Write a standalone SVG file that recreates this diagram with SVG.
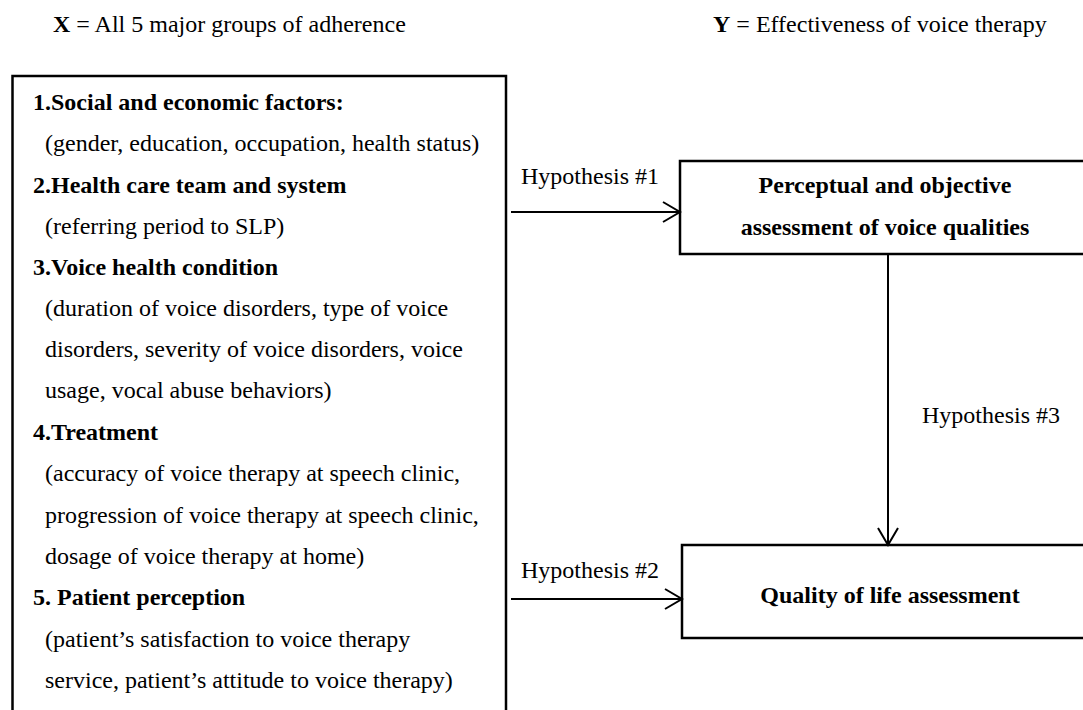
<svg xmlns="http://www.w3.org/2000/svg" width="1083" height="710" viewBox="0 0 1083 710">
<defs>
<style>
text{font-family:"Liberation Serif","Times New Roman",serif;font-size:24px;fill:#000}
.b{font-weight:bold}
.box{fill:#fff;stroke:#000;stroke-width:2.5}
.edge{fill:none;stroke:#000;stroke-width:2}
.c{text-anchor:middle}
</style>
<marker id="arr" markerWidth="20" markerHeight="24" refX="18" refY="11" orient="auto" markerUnits="userSpaceOnUse">
<path d="M1,1 L18,11 L1,21" fill="none" stroke="#000" stroke-width="2"/>
</marker>
</defs>
<rect width="1083" height="710" fill="#fff"/>
<g id="header">
<text x="53" y="32"><tspan class="b">X</tspan> = All 5 major groups of adherence</text>
<text x="713" y="32"><tspan class="b">Y</tspan> = Effectiveness of voice therapy</text>
</g>
<g id="node-x">
<rect class="box" x="12.5" y="76" width="493.5" height="660"/>
<text class="b" x="33" y="110">1.Social and economic factors:</text>
<text x="45" y="151">(gender, education, occupation, health status)</text>
<text class="b" x="33" y="192.5">2.Health care team and system</text>
<text x="45" y="233.5">(referring period to SLP)</text>
<text class="b" x="33" y="275">3.Voice health condition</text>
<text x="45" y="316">(duration of voice disorders, type of voice</text>
<text x="45" y="357">disorders, severity of voice disorders, voice</text>
<text x="45" y="398">usage, vocal abuse behaviors)</text>
<text class="b" x="33" y="440">4.Treatment</text>
<text x="45" y="481">(accuracy of voice therapy at speech clinic,</text>
<text x="45" y="522.5">progression of voice therapy at speech clinic,</text>
<text x="45" y="564">dosage of voice therapy at home)</text>
<text class="b" x="33" y="605">5. Patient perception</text>
<text x="45" y="646.5">(patient’s satisfaction to voice therapy</text>
<text x="45" y="688">service, patient’s attitude to voice therapy)</text>
</g>
<g id="node-perceptual">
<rect class="box" x="680" y="161" width="420" height="93"/>
<text class="b c" x="885" y="193">Perceptual and objective</text>
<text class="b c" x="885" y="235">assessment of voice qualities</text>
</g>
<g id="node-qol">
<rect class="box" x="682" y="545" width="420" height="93"/>
<text class="b c" x="890" y="603">Quality of life assessment</text>
</g>
<g id="connectors">
<line class="edge" x1="511" y1="212" x2="680" y2="212" marker-end="url(#arr)"/>
<line class="edge" x1="511" y1="599" x2="682" y2="599" marker-end="url(#arr)"/>
<line class="edge" x1="888" y1="254" x2="888" y2="545" marker-end="url(#arr)"/>
<text x="521" y="184">Hypothesis #1</text>
<text x="521" y="578">Hypothesis #2</text>
<text x="922" y="423">Hypothesis #3</text>
</g>
</svg>
